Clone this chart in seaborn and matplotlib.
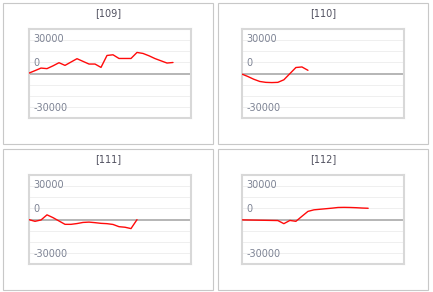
import matplotlib
matplotlib.use("Agg")
import matplotlib.pyplot as plt
import matplotlib.transforms as mtransforms
from matplotlib.patches import Rectangle
import seaborn as sns
import pandas as pd

# ---- data ----
titles = ["[109]", "[110]", "[111]", "[112]"]
s109 = [500, 2700, 5000, 4500, 7000, 9800, 7400, 10400, 13400, 11000, 8600, 8600, 5600,
        16300, 16900, 13600, 13600, 13600, 19000, 18100, 16000, 13500, 11500, 9500, 10000]
s110 = [-300, -2500, -5000, -7000, -7800, -8000, -7800, -5500, 0, 5500, 6000, 3000]
s111 = [0, -1500, -300, 4300, 1800, -1200, -4200, -4200, -3500, -2500, -2200, -2700,
        -3300, -3600, -4300, -6300, -6800, -8000, 0]
s112 = [-200, -300, -400, -500, -600, -700, -800, -3600, -700, -1500, 3000, 7400, 8800,
        9300, 9800, 10300, 10900, 11000, 10900, 10700, 10400, 10200]
series = [s109, s110, s111, s112]
ytick_values = [30000, 0, -30000]
ytick_labels = ["30000", "0", "-30000"]
grid_values = [30000, 20000, 10000, -10000, -20000, -30000]

W, H = 433, 292
sns.set_theme(style="white")
plt.rcParams["font.family"] = ["DejaVu Sans"]

fig = plt.figure(figsize=(W / 100, H / 100), dpi=100)
fig.patch.set_facecolor("white")

# panel boxes (pixels): x0, y0, x1, y1 ; plot areas
boxes = [(3.3, 2.7, 213.3, 144.3), (217.7, 2.7, 428.0, 144.3),
         (3.3, 148.7, 213.3, 290.3), (217.7, 148.7, 428.0, 290.3)]
plots = [(29.0, 29.0, 191.0, 118.3), (241.7, 29.0, 404.3, 118.3),
         (29.0, 175.0, 191.0, 264.3), (241.7, 175.0, 404.3, 264.3)]

label_color = "#7d8394"
title_color = "#50505f"
label_offsets = {30000: 0.8, 0: 10.5, -30000: -0.5}

for i in range(4):
    bx0, by0, bx1, by1 = boxes[i]
    fig.patches.append(Rectangle((bx0 / W, 1 - by1 / H), (bx1 - bx0) / W, (by1 - by0) / H,
                                 transform=fig.transFigure, fill=False,
                                 edgecolor="#c8c8c8", linewidth=0.8))
    fig.text((bx0 + bx1) / 2 / W, 1 - (by0 + 10.8) / H, titles[i], ha="center", va="center",
             fontsize=7, color=title_color)

    px0, py0, px1, py1 = plots[i]
    ax = fig.add_axes([px0 / W, 1 - py1 / H, (px1 - px0) / W, (py1 - py0) / H])
    ax.set_facecolor("white")
    ax.set_xlim(0, 27)
    ax.set_ylim(-40000, 40000)
    for g in grid_values:
        ax.axhline(g, color="#ececec", lw=0.6, zorder=1)
    ax.axhline(0, color="#b5b5b5", lw=1.4, zorder=2)

    df = pd.DataFrame({"x": range(len(series[i])), "y": series[i]})
    sns.lineplot(data=df, x="x", y="y", ax=ax, color="#ff0a0a", lw=1.0, zorder=3)

    for v, lab in zip(ytick_values, ytick_labels):
        off = mtransforms.offset_copy(ax.transData, fig=fig, x=0,
                                      y=label_offsets[v] * 0.72, units="points")
        ax.text(0.75, v, lab, transform=off, ha="left", va="center",
                fontsize=7, color=label_color, zorder=4)

    ax.set_xticks([])
    ax.set_yticks([])
    ax.set_xlabel("")
    ax.set_ylabel("")
    for sp in ax.spines.values():
        sp.set_color("#d8d8d8")
        sp.set_linewidth(1.5)
        sp.set_visible(True)

fig.savefig("out.png", dpi=100, facecolor="white")
